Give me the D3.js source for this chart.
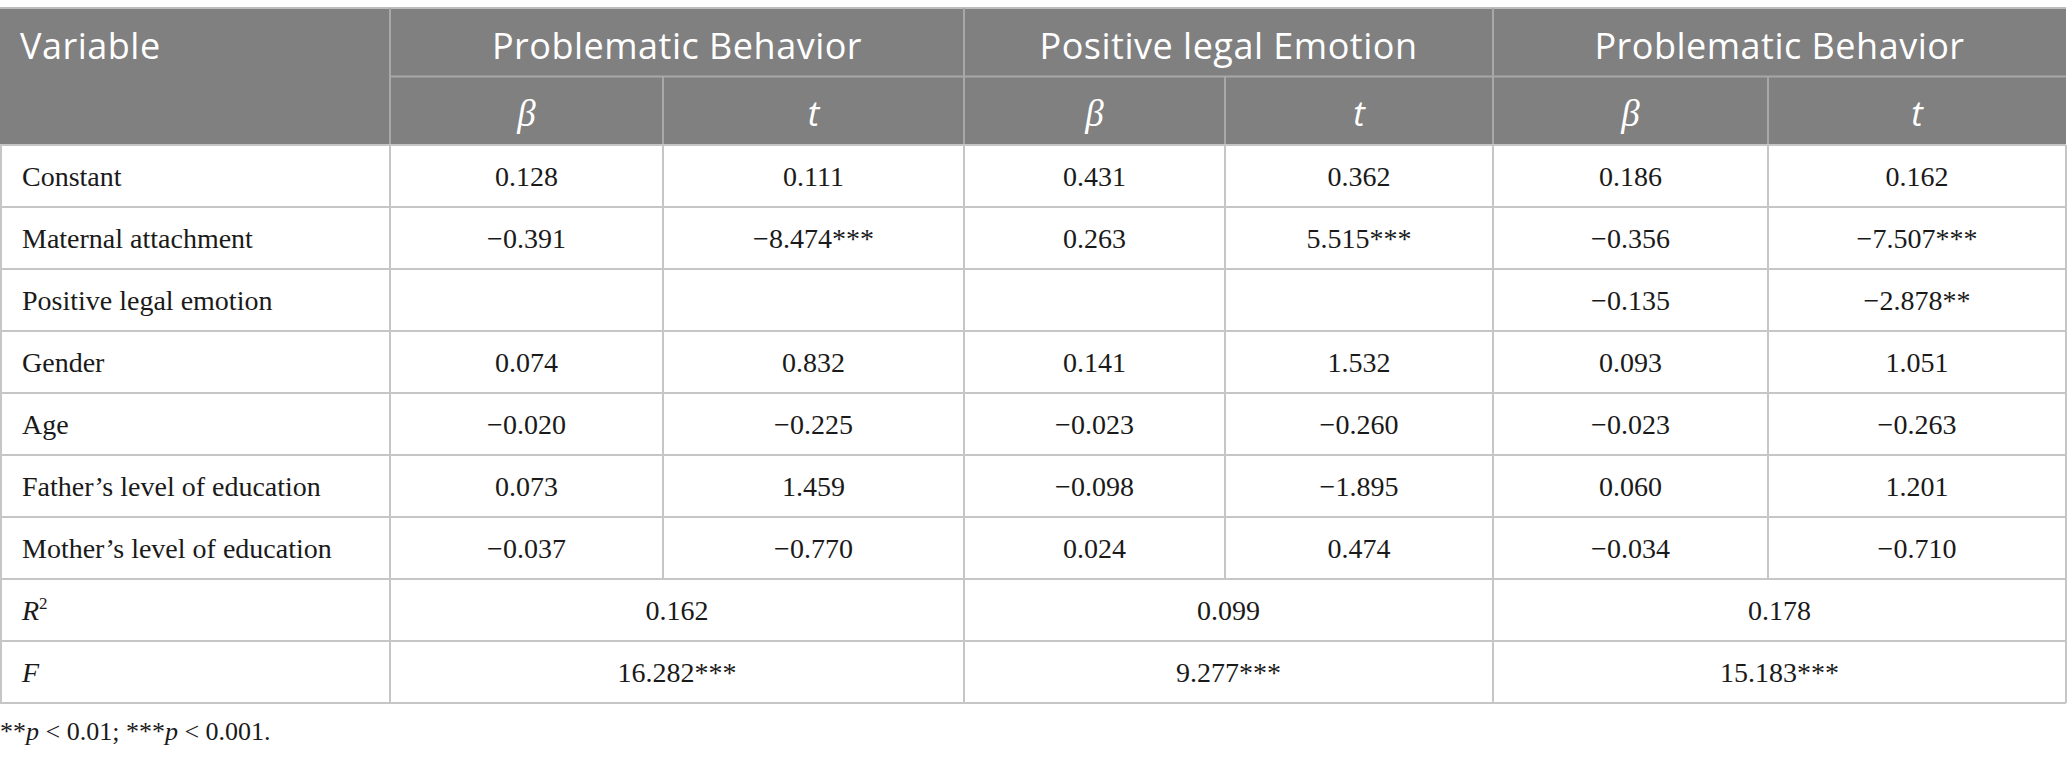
<!DOCTYPE html>
<html>
<head>
<meta charset="utf-8">
<script src="https://cdn.jsdelivr.net/npm/d3@7"></script>
<style>
  html, body { margin: 0; padding: 0; background: #fff; }
  svg { display: block; }
</style>
</head>
<body>
<script>
// table contents
var modelNames = ["Problematic Behavior", "Positive legal Emotion", "Problematic Behavior"];
var statNames = ["β", "t"];
var rowLabels = ["Constant", "Maternal attachment", "Positive legal emotion", "Gender", "Age",
  "Father’s level of education", "Mother’s level of education"];
var model1Beta = ["0.128", "−0.391", "", "0.074", "−0.020", "0.073", "−0.037"];
var model1T = ["0.111", "−8.474***", "", "0.832", "−0.225", "1.459", "−0.770"];
var model2Beta = ["0.431", "0.263", "", "0.141", "−0.023", "−0.098", "0.024"];
var model2T = ["0.362", "5.515***", "", "1.532", "−0.260", "−1.895", "0.474"];
var model3Beta = ["0.186", "−0.356", "−0.135", "0.093", "−0.023", "0.060", "−0.034"];
var model3T = ["0.162", "−7.507***", "−2.878**", "1.051", "−0.263", "1.201", "−0.710"];
var rSquared = ["0.162", "0.099", "0.178"];
var fValues = ["16.282***", "9.277***", "15.183***"];

var W = 2067, H = 760;
var colEdges = [0, 390, 663, 964, 1225, 1493, 1768, 2066];
var serif = "'Liberation Serif', 'Times New Roman', serif";
var sans = "'Open Sans', sans-serif";

var svg = d3.select("body").append("svg").attr("width", W).attr("height", H);

// x: column index -> left edge
var x = d3.scaleLinear().domain(d3.range(colEdges.length)).range(colEdges);
var colMid = function(i, span) { return (x(i) + x(i + (span || 1))) / 2; };

// y: header rows and body rows
var headY = d3.scaleBand().domain([0, 1]).range([8, 145]);
var bodyRows = rowLabels.length + 2;
var y = d3.scaleBand().domain(d3.range(bodyRows)).range([145, 145 + 62 * bodyRows]);

// header background
svg.append("rect").attr("x", 0).attr("y", headY(0)).attr("width", x(7))
  .attr("height", headY.bandwidth() * 2).attr("fill", "#808080");

var grid = svg.append("g");
var headLine = "#a8a8a8", bodyLine = "#c6c6c6";

// top border
grid.append("line").attr("x1", 0).attr("x2", x(7)).attr("y1", headY(0)).attr("y2", headY(0))
  .attr("stroke", "#bdbdbd").attr("stroke-width", 2);
// header row split under the model names
grid.append("line").attr("x1", x(1)).attr("x2", x(7)).attr("y1", headY(1)).attr("y2", headY(1))
  .attr("stroke", headLine).attr("stroke-width", 2);
// header verticals
[1, 3, 5].forEach(function(i) {
  grid.append("line").attr("x1", x(i)).attr("x2", x(i)).attr("y1", headY(0)).attr("y2", y(0))
    .attr("stroke", headLine).attr("stroke-width", 2);
});
[2, 4, 6].forEach(function(i) {
  grid.append("line").attr("x1", x(i)).attr("x2", x(i)).attr("y1", headY(1)).attr("y2", y(0))
    .attr("stroke", headLine).attr("stroke-width", 2);
});

// body horizontal lines
d3.range(bodyRows + 1).forEach(function(r) {
  var yy = r < bodyRows ? y(r) : y(bodyRows - 1) + y.bandwidth();
  grid.append("line").attr("x1", 0).attr("x2", x(7)).attr("y1", yy).attr("y2", yy)
    .attr("stroke", bodyLine).attr("stroke-width", 2);
});
// body verticals (inner ones stop before the merged R2/F rows)
var bodyTop = y(0), bodyBottom = y(bodyRows - 1) + y.bandwidth();
[0, 1, 3, 5, 7].forEach(function(i) {
  grid.append("line").attr("x1", x(i) + (i == 0 ? 1 : 0)).attr("x2", x(i) + (i == 0 ? 1 : 0))
    .attr("y1", bodyTop).attr("y2", bodyBottom).attr("stroke", bodyLine).attr("stroke-width", 2);
});
[2, 4, 6].forEach(function(i) {
  grid.append("line").attr("x1", x(i)).attr("x2", x(i))
    .attr("y1", bodyTop).attr("y2", y(rowLabels.length)).attr("stroke", bodyLine).attr("stroke-width", 2);
});

// header text
var head = svg.append("g").attr("fill", "#fff");
head.append("text").attr("x", 20).attr("y", headY(0) + headY.bandwidth() / 2 + 17)
  .attr("font-family", sans).attr("font-size", 36).attr("letter-spacing", 0.5).text("Variable");
head.selectAll("text.model").data(modelNames).enter().append("text").attr("class", "model")
  .attr("x", function(d, i) { return colMid(1 + 2 * i, 2); })
  .attr("y", headY(0) + headY.bandwidth() / 2 + 17)
  .attr("text-anchor", "middle").attr("font-family", sans).attr("font-size", 36)
  .attr("letter-spacing", 0.5)
  .text(function(d) { return d; });
head.selectAll("text.stat").data(d3.range(6)).enter().append("text").attr("class", "stat")
  .attr("x", function(d) { return colMid(1 + d); })
  .attr("y", headY(1) + headY.bandwidth() / 2 + 15)
  .attr("text-anchor", "middle").attr("font-style", "italic")
  .attr("font-family", function(d) { return d % 2 == 0 ? serif : sans; })
  .attr("font-size", function(d) { return d % 2 == 0 ? 37 : 35; })
  .text(function(d) { return statNames[d % 2]; });

// body text
var body = svg.append("g").attr("fill", "#1a1a1a").attr("font-family", serif).attr("font-size", 28);
var baseOf = function(r) { return y(r) + y.bandwidth() / 2 + 10; };

body.selectAll("text.label").data(rowLabels).enter().append("text").attr("class", "label")
  .attr("x", 22).attr("y", function(d, r) { return baseOf(r); })
  .text(function(d) { return d; });

var columns = [model1Beta, model1T, model2Beta, model2T, model3Beta, model3T];
columns.forEach(function(col, c) {
  body.selectAll("text.c" + c).data(col).enter().append("text").attr("class", "c" + c)
    .attr("x", colMid(1 + c)).attr("y", function(d, r) { return baseOf(r); })
    .attr("text-anchor", "middle").text(function(d) { return d; });
});

// R squared row
var rRow = rowLabels.length;
var rl = body.append("text").attr("x", 22).attr("y", baseOf(rRow));
rl.append("tspan").attr("font-style", "italic").text("R");
rl.append("tspan").attr("font-size", 17).attr("dy", -11).text("2");
body.selectAll("text.r2").data(rSquared).enter().append("text").attr("class", "r2")
  .attr("x", function(d, i) { return colMid(1 + 2 * i, 2); }).attr("y", baseOf(rRow))
  .attr("text-anchor", "middle").text(function(d) { return d; });

// F row
var fRow = rowLabels.length + 1;
body.append("text").attr("x", 22).attr("y", baseOf(fRow)).attr("font-style", "italic").text("F");
body.selectAll("text.f").data(fValues).enter().append("text").attr("class", "f")
  .attr("x", function(d, i) { return colMid(1 + 2 * i, 2); }).attr("y", baseOf(fRow))
  .attr("text-anchor", "middle").text(function(d) { return d; });

// footnote
var note = body.append("text").attr("x", 0).attr("y", 740).attr("font-size", 26);
note.append("tspan").text("**");
note.append("tspan").attr("font-style", "italic").text("p");
note.append("tspan").text(" < 0.01; ***");
note.append("tspan").attr("font-style", "italic").text("p");
note.append("tspan").text(" < 0.001.");
</script>
</body>
</html>
